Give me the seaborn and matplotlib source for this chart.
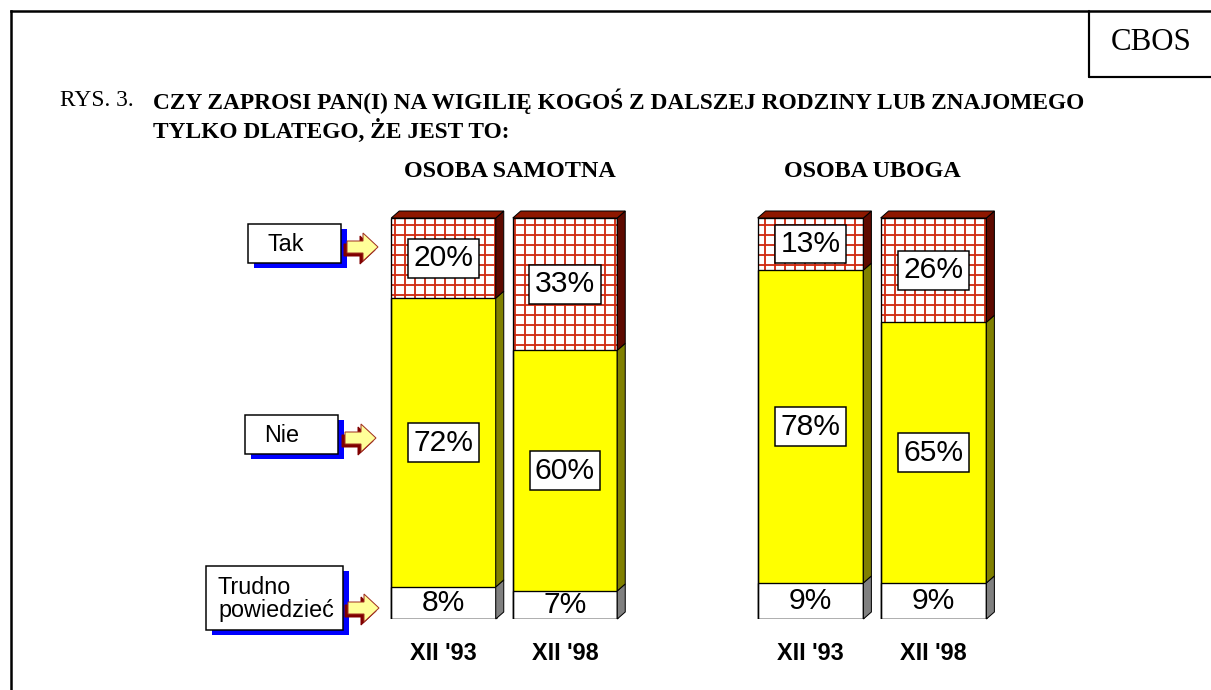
import numpy as np
import pandas as pd
import matplotlib
matplotlib.use("Agg")
import matplotlib.pyplot as plt
import seaborn as sns
from matplotlib.patches import Polygon, Rectangle
from matplotlib.transforms import IdentityTransform

# ---------------- data ----------------
waves = ["XII '93", "XII '98"]
group_titles = ["OSOBA SAMOTNA", "OSOBA UBOGA"]
answers = ["Tak", "Nie", "Trudno\npowiedzieć"]

samotna_tak = [20, 33]
samotna_nie = [72, 60]
samotna_trudno = [8, 7]

uboga_tak = [13, 26]
uboga_nie = [78, 65]
uboga_trudno = [9, 9]

title_prefix = "RYS. 3."
title_lines = ["CZY ZAPROSI PAN(I) NA WIGILIĘ KOGOŚ Z DALSZEJ RODZINY LUB ZNAJOMEGO",
               "TYLKO DLATEGO, ŻE JEST TO:"]
source_label = "CBOS"

# ---------------- style ----------------
sns.set_theme(style="white")
plt.rcParams["font.family"] = ["Liberation Sans", "DejaVu Sans"]
plt.rcParams["text.color"] = "black"
plt.rcParams["xtick.color"] = "black"
plt.rcParams["axes.labelcolor"] = "black"
plt.rcParams["hatch.linewidth"] = 1.1

SERIF = ["Liberation Serif", "DejaVu Serif"]
SANS = ["Liberation Sans", "DejaVu Sans"]

C_TAK_HATCH = "#D02A10"
C_TAK_SIDE = "#5E0A00"
C_TAK_TOP = "#8E1800"
C_NIE = "#FFFF00"
C_NIE_SIDE = "#808000"
C_TRUDNO = "#FFFFFF"
C_TRUDNO_SIDE = "#808080"

W, H, DPI = 1211, 690, 120
fig = plt.figure(figsize=(W / DPI, H / DPI), dpi=DPI)
fig.patch.set_facecolor("white")

# overlay in pixel coordinates for frame/legend decorations
ov = fig.add_axes([0, 0, 1, 1])
ov.set_xlim(0, W)
ov.set_ylim(H, 0)
ov.axis("off")
ov.patch.set_alpha(0)

# outer frame (left + top) and CBOS box
ov.plot([11, 11], [H, 11], color="black", lw=1.5, solid_capstyle="projecting")
ov.plot([11, W], [11, 11], color="black", lw=1.5, solid_capstyle="projecting")
ov.plot([1089, 1089], [11, 77], color="black", lw=1.3)
ov.plot([1089, W], [77, 77], color="black", lw=1.3)
ov.text(1151, 43, source_label, family=SERIF, fontsize=18.5, ha="center", va="center")

# title
ov.text(60, 101, title_prefix, family=SERIF, fontsize=14, ha="left", va="center")
ov.text(153, 101, title_lines[0], family=SERIF, fontsize=14, fontweight="bold",
        ha="left", va="center")
ov.text(153, 131, title_lines[1], family=SERIF, fontsize=14, fontweight="bold",
        ha="left", va="center")


def px_axes(left, top, right, bottom):
    return fig.add_axes([left / W, 1 - bottom / H, (right - left) / W, (bottom - top) / H])


def draw_group(ax, title, tak, nie, trudno, title_dx):
    tak = np.array(tak, float)
    nie = np.array(nie, float)
    trudno = np.array(trudno, float)
    total = tak + nie + trudno
    lower2 = nie + trudno
    df = pd.DataFrame({"wave": waves, "total": total, "lower2": lower2, "trudno": trudno})

    common = dict(x="wave", ax=ax, width=0.86, saturation=1, errorbar=None, order=waves)
    sns.barplot(data=df, y="total", color="white", edgecolor=C_TAK_HATCH,
                linewidth=0, hatch="++", **common)
    sns.barplot(data=df, y="lower2", color=C_NIE, edgecolor="black", linewidth=0.8, **common)
    sns.barplot(data=df, y="trudno", color=C_TRUDNO, edgecolor="black", linewidth=0.8, **common)
    sns.barplot(data=df, y="total", color="black", fill=False, linewidth=0.8, **common)

    ax.set_xlim(-0.5, 1.5)
    ax.set_ylim(0, 100)
    ax.set_xlabel("")
    ax.set_ylabel("")
    ax.set_yticks([])
    ax.set_xticks(range(len(waves)))
    ax.set_xticklabels(waves, fontsize=14, fontweight="bold", family=SANS)
    ax.tick_params(axis="x", length=0, pad=14)
    for s in ax.spines.values():
        s.set_visible(False)
    ax.patch.set_alpha(0)
    ax.text(0.5 + title_dx, 1.115, title, transform=ax.transAxes, family=SERIF,
            fontsize=14.5, fontweight="bold", ha="center", va="center")

    bars = ax.patches[: len(waves)]
    dx, dy = 8, 7
    idt = IdentityTransform()
    for i, p in enumerate(bars):
        x0, w = p.get_x(), p.get_width()
        xr = x0 + w
        segs = [(0, trudno[i], C_TRUDNO_SIDE),
                (trudno[i], lower2[i], C_NIE_SIDE),
                (lower2[i], total[i], C_TAK_SIDE)]
        for y0, y1, col in segs:
            a = ax.transData.transform((xr, y0))
            b = ax.transData.transform((xr, y1))
            pts = [a, b, (b[0] + dx, b[1] + dy), (a[0] + dx, a[1] + dy)]
            fig.add_artist(Polygon(pts, closed=True, transform=idt, fc=col,
                                   ec="black", lw=0.6, zorder=5))
        tl = ax.transData.transform((x0, total[i]))
        tr = ax.transData.transform((xr, total[i]))
        pts = [tl, tr, (tr[0] + dx, tr[1] + dy), (tl[0] + dx, tl[1] + dy)]
        fig.add_artist(Polygon(pts, closed=True, transform=idt, fc=C_TAK_TOP,
                               ec="black", lw=0.6, zorder=5))

        xc = x0 + w / 2
        box = dict(boxstyle="square,pad=0.18", fc="white", ec="black", lw=0.9)
        ax.text(xc, lower2[i] + tak[i] / 2, f"{int(tak[i])}%", ha="center", va="center",
                fontsize=18, family=SANS, bbox=box, zorder=10)
        ax.text(xc, trudno[i] + nie[i] / 2, f"{int(nie[i])}%", ha="center", va="center",
                fontsize=18, family=SANS, bbox=box, zorder=10)
        ax.text(xc, trudno[i] / 2, f"{int(trudno[i])}%", ha="center", va="center",
                fontsize=18, family=SANS, zorder=10)


ax1 = px_axes(382.75, 218, 625.75, 619)
draw_group(ax1, group_titles[0], samotna_tak, samotna_nie, samotna_trudno, 0.025)
ax2 = px_axes(749, 218, 995, 619)
draw_group(ax2, group_titles[1], uboga_tak, uboga_nie, uboga_trudno, 0.0)

# ---------------- answer legend (boxes + arrows) ----------------
legend_boxes = [  # x0, y0, x1, y1 (px), arrow x-start, arrow y-centre
    (248, 224, 341, 263, 347, 247),
    (245, 415, 338, 454, 345, 438),
    (206, 566, 343, 630, 348, 608),
]
for label, (x0, y0, x1, y1, axs, ayc) in zip(answers, legend_boxes):
    ov.add_patch(Rectangle((x0 + 6, y0 + 5), x1 - x0, y1 - y0, fc="#0000FF", ec="none", zorder=2))
    ov.add_patch(Rectangle((x0, y0), x1 - x0, y1 - y0, fc="white", ec="black", lw=0.9, zorder=3))
    tx = x0 + 12 if "\n" in label else x0 + 19
    ov.text(tx, (y0 + y1) / 2 + 1, label, ha="left", va="center",
            fontsize=14, family=SANS, linespacing=1.0, zorder=4)
    tip = axs + 31
    shaft = [(axs, ayc - 6), (axs + 16, ayc - 6), (axs + 16, ayc - 14), (tip, ayc),
             (axs + 16, ayc + 14), (axs + 16, ayc + 6), (axs, ayc + 6)]
    shadow = [(x - 3, y + 3) for x, y in shaft]
    ov.add_patch(Polygon(shadow, closed=True, fc="#800000", ec="#800000", lw=0.6, zorder=2))
    ov.add_patch(Polygon(shaft, closed=True, fc="#FFFF99", ec="#A03020", lw=0.6, zorder=3))

fig.savefig("out.png", dpi=DPI)
